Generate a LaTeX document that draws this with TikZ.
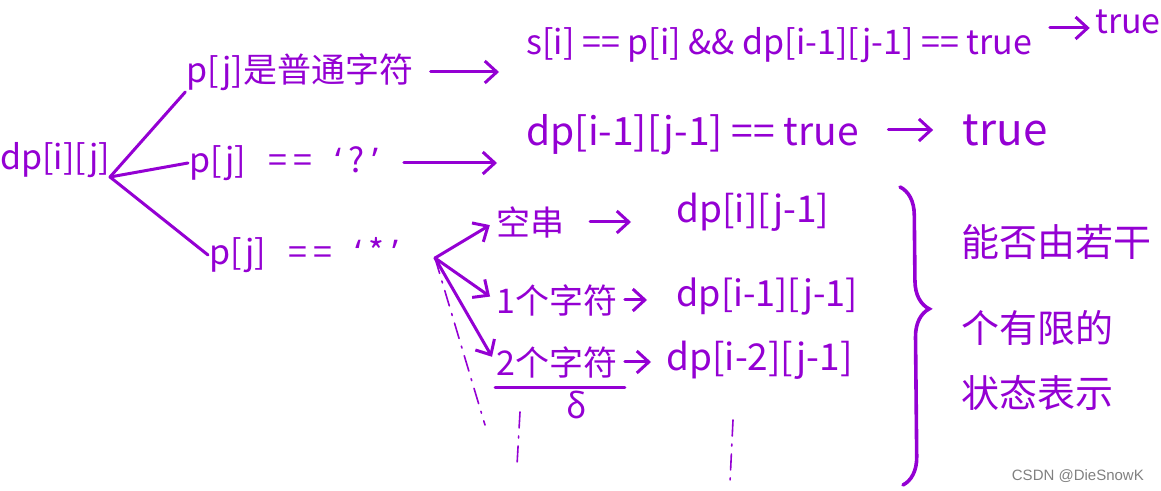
\documentclass[tikz,border=0pt]{standalone}
\usepackage{fontspec}
\setmainfont{Noto Sans CJK SC}
\newfontfamily\latinfont{Noto Sans}
\newfontfamily\wmfont{Liberation Sans}
\usetikzlibrary{arrows.meta,decorations.pathreplacing}
\definecolor{pen}{RGB}{148,0,211}

\newlength\unitL
\setlength\unitL{0.5pt}

\newcommand\openq{{\latinfont‘}}
\newcommand\closeq{{\latinfont’}}

\begin{document}
\begin{tikzpicture}[x=\unitL, y=-\unitL, line width=1.5pt, color=pen, line cap=round,
    >={Straight Barb[length=6pt,width=11pt]},
    hand/.style={inner sep=0pt, font=\fontsize{17}{20}\selectfont},
    big/.style={inner sep=0pt, font=\fontsize{19}{24}\selectfont},
    harrow/.style={->, shorten <=5pt, shorten >=6pt},
    guess/.style={line width=0.8pt, dash pattern=on 8pt off 4pt on 1pt off 4pt}]

    \useasboundingbox (0,0) rectangle (1161,491);

    % === Root state ===
    \node[hand] (dp) at (55,160) {dp[i][j]};
    \coordinate (root) at (110,177);

    % === Three cases for p[j] ===
    \node[hand] (plain) at (300,72) {p[j]是普通字符};
    \node[hand, anchor=west] (qm) at (188,163) {p[j] \ \ =\,= \ \ \openq\ ?\ \closeq};
    \node[hand, anchor=west] (star) at (208,255) {p[j] \ \ =\,= \ \ \openq\ *\ \closeq};

    \draw (root) -- (plain.south west);
    \draw (root) -- (qm.west);
    \draw (root) -- (star.west);

    % === Ordinary char and '?' ===
    \node[hand, anchor=west] (rule1) at (525,45) {s[i] == p[i] \&\& dp[i-1][j-1] == true};
    \node[hand] (true1) at (1128,22) {true};
    \draw[harrow, shorten <=8pt, shorten >=13pt] (plain.east) -- (plain.east -| rule1.west);
    \draw[->, shorten <=8pt, shorten >=2pt] ([yshift=-3pt]true1.west -| rule1.east) -- ([yshift=-3pt]true1.west);

    \node[hand, anchor=west, font=\fontsize{19.5}{22}\selectfont] (rule2) at (525,135) {dp[i-1][j-1] == true};
    \node[hand, font=\fontsize{22}{24}\selectfont] (true2) at (1005,130) {true};
    \draw[harrow, shorten <=12pt, shorten >=14pt] (qm.east) -- (qm.east -| rule2.west);
    \draw[harrow, shorten <=14pt, shorten >=14pt] (true2.west -| rule2.east) -- (true2.west);

    % === '*' matches 0, 1, 2 ... chars ===
    \coordinate (fork) at (435,258);
    \node[hand, anchor=west] (empty) at (495,222) {空串};
    \node[hand, anchor=west] (one) at (495,300) {1个字符};
    \node[hand, anchor=west] (two) at (495,362) {2个字符};
    \draw[->, shorten >=3pt] (fork) -- (empty.west);
    \draw[->, shorten >=3pt] (fork) -- (one.west);
    \draw[->, shorten >=3pt] (fork) -- (two.west);

    \node[hand, anchor=west, font=\fontsize{18.5}{22}\selectfont] (dpA) at (675,212) {dp[i][j-1]};
    \node[hand, anchor=west, font=\fontsize{18}{22}\selectfont] (dpB) at (675,297) {dp[i-1][j-1]};
    \node[hand, anchor=west, font=\fontsize{18.5}{22}\selectfont] (dpC) at (665,360) {dp[i-2][j-1]};
    \draw[harrow, shorten <=12pt, shorten >=22pt] (empty.east) -- (empty.east -| dpA.west);
    \draw[harrow, shorten <=3pt, shorten >=14pt] (one.east) -- (one.east -| dpB.west);
    \draw[harrow, shorten <=3pt, shorten >=7pt] (two.east) -- (two.east -| dpC.west);

    \draw ([yshift=-4pt]two.south west) -- ([yshift=-4pt, xshift=3pt]two.south east);
    \node[hand] (delta) at (577,405) {δ};

    % === and so on (dashed) ===
    \coordinate (more1) at (485,425);
    \draw[guess] (fork) -- (more1);
    \coordinate (more2a) at (520,412);
    \coordinate (more2b) at (517,465);
    \draw[guess] (more2a) -- (more2b);
    \coordinate (more3a) at (733,420);
    \coordinate (more3b) at (730,482);
    \draw[guess] (more3a) -- (more3b);

    % === Brace and summary ===
    \coordinate (bracetop) at (900,187);
    \coordinate (bracebot) at (903,485);
    \draw[line width=1.8pt, decorate, decoration={brace, amplitude=14pt, aspect=0.41}] (bracetop) -- (bracebot);

    \node[big, anchor=west] (sum1) at (960,242) {能否由若干};
    \node[big, anchor=west] (sum2) at (960,328) {个有限的};
    \node[big, anchor=west] (sum3) at (960,393) {状态表示};

    % === Watermark ===
    \node[anchor=east, text=gray, font=\wmfont\fontsize{7.5}{9}\selectfont] (mark) at (1152,476) {CSDN @DieSnowK};

\end{tikzpicture}
\end{document}
